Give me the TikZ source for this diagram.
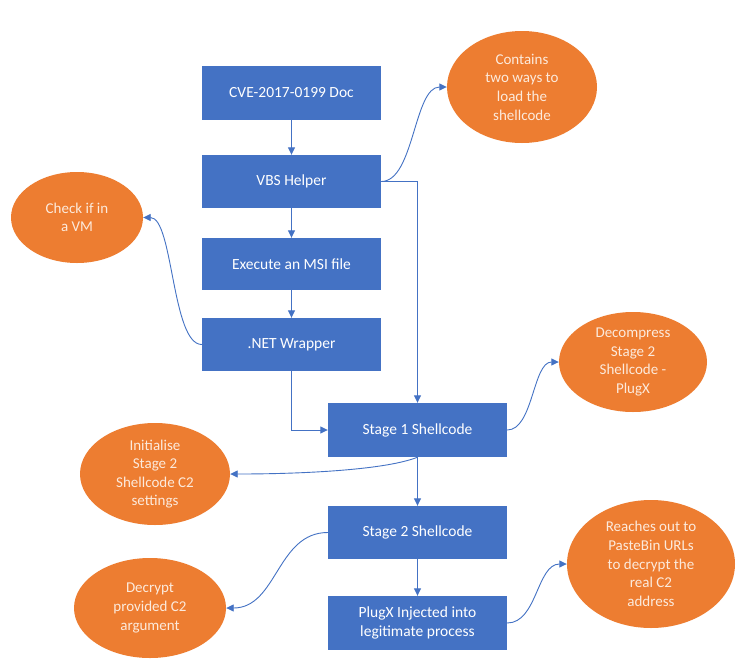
\documentclass[tikz,border=0pt]{standalone}
\usepackage{fontspec}
\setmainfont{Carlito}
\usetikzlibrary{arrows.meta,shapes.geometric}
\definecolor{boxblue}{HTML}{4472C4}
\definecolor{orng}{HTML}{ED7D31}
\definecolor{ltext}{HTML}{FCEADC}
\begin{document}
\begin{tikzpicture}[x=1pt,y=-1pt,
  stepbox/.style={rectangle, fill=boxblue, draw=none, minimum width=179pt, minimum height=54pt, inner sep=2pt, text=white, align=center, font=\fontsize{15.5}{18.6}\selectfont},
  bubble/.style={ellipse, fill=orng, draw=none, inner sep=0pt, text=ltext, align=center, font=\fontsize{15}{18.6}\selectfont},
  link/.style={draw=boxblue, line width=0.9pt, -{Triangle[length=7.5pt,width=7pt]}}]
\fill[white] (0,0) rectangle (750,670);
\useasboundingbox (0,0) rectangle (750,670);

\node[stepbox] (cve) at (291.5,92.5) {CVE-2017-0199 Doc};
\node[stepbox, minimum height=53pt] (vbs) at (291.5,181.5) {VBS Helper};
\node[stepbox, minimum height=52pt] (msi) at (291.5,264) {Execute an MSI file};
\node[stepbox, minimum height=53pt] (net) at (291.5,344.5) {.NET Wrapper};
\node[stepbox] (s1) at (417.5,430) {Stage 1 Shellcode};
\node[stepbox, minimum height=53pt] (s2) at (417.5,532.5) {Stage 2 Shellcode};
\node[stepbox] (plugx) at (417.5,623) {PlugX Injected into\\legitimate process};

\node[bubble, minimum width=150pt, minimum height=112pt] (contains) at (522,87) {Contains\\two ways to\\load the\\shellcode};
\node[bubble, minimum width=132pt, minimum height=91pt] (check) at (77,217.5) {Check if in\\a VM};
\node[bubble, minimum width=148pt, minimum height=100pt] (decomp) at (633,362) {Decompress\\Stage 2\\Shellcode -\\PlugX};
\node[bubble, minimum width=150pt, minimum height=102pt] (init) at (155,474) {Initialise\\Stage 2\\Shellcode C2\\settings};
\node[bubble, minimum width=152pt, minimum height=100pt] (decrypt) at (150,608) {Decrypt\\provided C2\\argument};
\node[bubble, inner ysep=-8pt, minimum width=168pt, minimum height=128pt] (reaches) at (651,564) {Reaches out to\\PasteBin URLs\\to decrypt the\\real C2\\address};

\draw[link] (cve) -- (vbs);
\draw[link] (vbs) -- (msi);
\draw[link] (msi) -- (net);
\draw[link] (vbs.east) -| (s1.north);
\draw[link] (net.south) |- (s1.west);
\draw[link] (s1) -- (s2);
\draw[link] (s2) -- (plugx);
\draw[link] (vbs.east) .. controls +(33,0) and +(-33,0) .. (contains.west);
\draw[link] (net.west) .. controls +(-30,0) and +(30,0) .. (check.east);
\draw[link] (s1.east) .. controls +(26,0) and +(-26,0) .. (decomp.west);
\draw[link] (s1.south) .. controls +(-30,12) and +(80,0) .. (init.east);
\draw[link] (s2.west) .. controls +(-51,0) and +(51,0) .. (decrypt.east);
\draw[link] (plugx.east) .. controls +(30,0) and +(-30,0) .. (reaches.west);
\end{tikzpicture}
\end{document}
